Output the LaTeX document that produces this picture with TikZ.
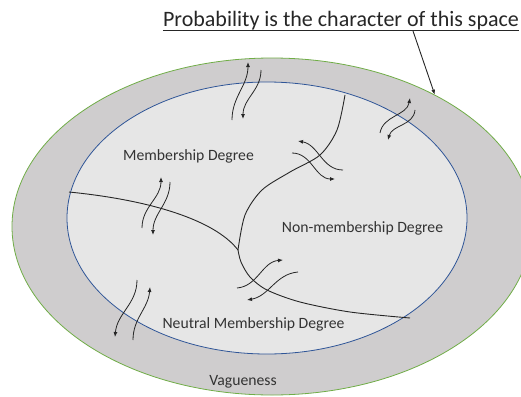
\documentclass[tikz,border=0pt]{standalone}
\usepackage{fontspec}
\setmainfont{Carlito}
\usetikzlibrary{arrows.meta,shapes.geometric}

\definecolor{bandgray}{RGB}{207,205,206}
\definecolor{coregray}{RGB}{230,230,230}
\definecolor{rimgreen}{RGB}{112,173,71}
\definecolor{rimblue}{RGB}{47,85,151}
\definecolor{inkgray}{RGB}{51,51,51}

\begin{document}
\begin{tikzpicture}[
    x=1pt, y=1pt,
    font=\fontsize{15.7}{18}\selectfont,
    region/.style={ellipse, draw, line width=0.8pt, inner sep=0pt},
    lbl/.style={anchor=base, text=inkgray, inner sep=0pt},
    border/.style={line width=0.9pt, draw=black!85},
    flow/.style={-{Latex[length=5pt,width=4pt]}, line width=0.8pt, draw=black!85},
  ]
  \useasboundingbox (0,0) rectangle (521,-396);
  \clip (0,0) rectangle (521,-396);

  % the two spaces
  \node[region, fill=bandgray, draw=rimgreen, minimum width=520pt, minimum height=337pt] (outer) at (272,-226.5) {};
  \node[region, fill=coregray, draw=rimblue, minimum width=400pt, minimum height=272pt] (inner) at (267,-218) {};

  % borders between the degrees
  \coordinate (junc) at (238,-250);
  \draw[border] (69,-192) .. controls (150,-200) and (215,-220) .. (junc);
  \draw[border] plot[smooth] coordinates {(345,-95) (337,-130) (320,-155) (290,-172) (262,-190) (245,-215) (238,-250)};
  \draw[border] plot[smooth] coordinates {(238,-250) (241,-262) (250,-277) (267,-290) (300,-302) (350,-312) (410,-318)};

  % exchanges
  \draw[flow] (232,-120) to[out=90,in=-90] (248,-62);
  \draw[flow] (261,-70) to[out=-90,in=90] (243,-119);
  \draw[flow] (380,-133) to[out=80,in=-100] (410,-98);
  \draw[flow] (415,-110) to[out=-95,in=75] (388,-140);
  \draw[flow] (292,-153) to[out=0,in=180] (335,-179);
  \draw[flow] (343,-170) to[out=180,in=-10] (298,-141);
  \draw[flow] (142,-228) to[out=90,in=-90] (161,-177);
  \draw[flow] (170,-182) to[out=-90,in=90] (153,-235);
  \draw[flow] (237,-288) to[out=5,in=185] (283,-260);
  \draw[flow] (298,-272) to[out=185,in=10] (247,-300);
  \draw[flow] (137,-280) to[out=-90,in=85] (115,-337);
  \draw[flow] (133,-340) to[out=90,in=-95] (150,-287);

  % labels
  \node[lbl] (member) at (188.5,-160) {Membership Degree};
  \node[lbl] (nonmember) at (362.5,-232) {Non-membership Degree};
  \node[lbl] (neutral) at (253.5,-328) {Neutral Membership Degree};
  \node[lbl] (vague) at (243,-385) {Vagueness};

  \node[lbl, text=black!85, font=\fontsize{22}{26}\selectfont] (cap) at (341,-27) {Probability is the character of this space};
  \draw[line width=1.4pt, black!85] (cap.south west) -- (cap.south east);
  \coordinate (capfoot) at (413,-31);
  \draw[-{Latex[length=5pt,width=4pt]}, line width=0.9pt, black!85] (capfoot) -- (outer.39);
\end{tikzpicture}
\end{document}
